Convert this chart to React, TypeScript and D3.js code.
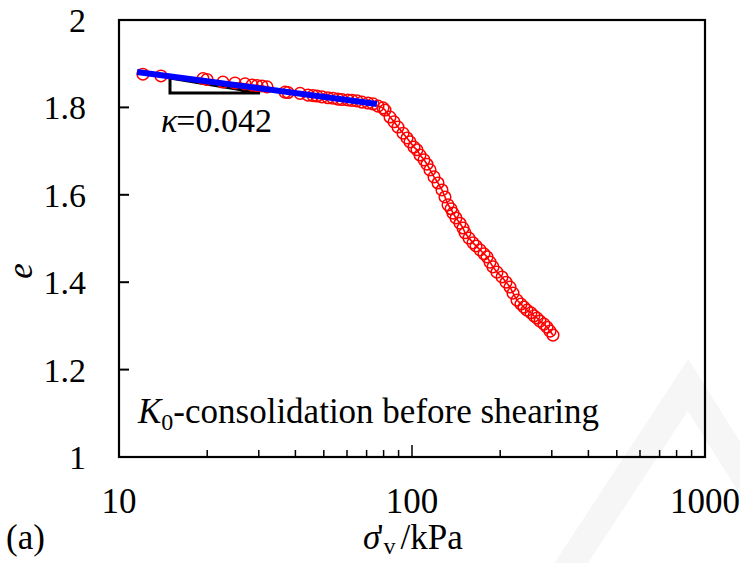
import React, { useEffect } from "react";
import * as d3 from "d3";

// measured data: vertical effective stress (kPa) and void ratio
const sigmaV: number[] = [
  12.07, 13.91, 19.35, 19.97, 22.64, 24.89, 26.92, 28.44, 29.58, 30.77, 32.0,
  36.87, 37.74, 41.48, 44.17, 45.94, 47.4, 49.29, 51.68, 53.75, 55.89, 57.69,
  60.47, 62.4, 64.91, 67.51, 70.77, 73.61, 76.56, 79.62, 80.88, 84.13, 86.82,
  89.58, 93.19, 96.14, 98.45, 101.6, 104.0, 106.5, 109.9, 112.5, 115.2, 118.9,
  122.7, 126.6, 129.6, 132.7, 135.9, 138.0, 141.3, 145.8, 149.3, 151.7, 156.5,
  161.5, 165.4, 170.7, 176.1, 180.3, 184.6, 189.0, 195.0, 202.9, 209.4, 216.0,
  221.2, 228.2, 235.5, 241.1, 246.9, 254.7, 260.8, 267.1, 273.5, 282.2, 288.9,
  295.8, 302.8,
];
const voidRatio: number[] = [
  1.876, 1.872, 1.866, 1.864, 1.858, 1.856, 1.854, 1.851, 1.85, 1.849, 1.847,
  1.835, 1.834, 1.832, 1.828, 1.827, 1.826, 1.824, 1.822, 1.821, 1.819, 1.818,
  1.817, 1.816, 1.815, 1.812, 1.81, 1.808, 1.803, 1.799, 1.794, 1.778, 1.767,
  1.755, 1.741, 1.73, 1.721, 1.709, 1.703, 1.691, 1.68, 1.67, 1.657, 1.641,
  1.627, 1.611, 1.595, 1.577, 1.568, 1.558, 1.547, 1.535, 1.524, 1.513, 1.501,
  1.49, 1.483, 1.474, 1.465, 1.458, 1.446, 1.435, 1.423, 1.412, 1.4, 1.389,
  1.375, 1.359, 1.35, 1.343, 1.336, 1.33, 1.323, 1.318, 1.311, 1.304, 1.297,
  1.288, 1.279,
];

// fitted recompression line (kappa)
const fitSigma: number[] = [11.52, 75.9];
const fitE: number[] = [1.881, 1.808];

// slope triangle
const triSigma: number[] = [14.93, 14.93, 30.29];
const triE: number[] = [1.867, 1.833, 1.833];

const xTicks: number[] = [10, 100, 1000];
const xTickLabels: string[] = ["10", "100", "1000"];
const xMinor: number[] = [20, 30, 40, 50, 60, 70, 80, 90, 200, 300, 400, 500, 600, 700, 800, 900];
const yTicks: number[] = [1, 1.2, 1.4, 1.6, 1.8, 2];
const yTickLabels: string[] = ["1", "1.2", "1.4", "1.6", "1.8", "2"];

const W = 740;
const H = 563;
const L = 119;
const R = 705;
const T = 20;
const B = 457;
const FS = { fontFamily: "'Liberation Serif', 'Times New Roman', serif" };

export default function App() {
  useEffect(() => {
    document.body.style.margin = "0";
  }, []);

  const x = d3.scaleLog().domain([10, 1000]).range([L, R]);
  const y = d3.scaleLinear().domain([1, 2]).range([B, T]);

  const pts = sigmaV.map((s, i) => [x(s), y(voidRatio[i])] as [number, number]);
  const line = d3.line<[number, number]>().x((d) => d[0]).y((d) => d[1]);
  const fitPts = fitSigma.map((s, i) => [x(s), y(fitE[i])] as [number, number]);
  const triPts = triSigma.map((s, i) => [x(s), y(triE[i])] as [number, number]);

  return (
    <svg width={W} height={H} style={{ display: "block" }}>
      <rect x={0} y={0} width={W} height={H} fill="#ffffff" />
      {/* faint watermark */}
      <polyline
        points="560,580 688,385 760,500"
        fill="none"
        stroke="#f6f6f6"
        strokeWidth={28}
      />

      {/* slope triangle */}
      <path d={line(triPts)! + "Z"} fill="#ffffff" stroke="#000" strokeWidth={3} />

      {/* data */}
      <path d={line(pts)!} fill="none" stroke="#ff0000" strokeWidth={1.6} />
      {pts.map((p, i) => (
        <circle key={i} cx={p[0]} cy={p[1]} r={5.8} fill="none" stroke="#ff0000" strokeWidth={1.5} />
      ))}
      <path d={line(fitPts)!} fill="none" stroke="#0000ff" strokeWidth={6} />

      {/* axes frame */}
      <rect x={L} y={T} width={R - L} height={B - T} fill="none" stroke="#000" strokeWidth={2.2} />

      {/* y ticks */}
      {yTicks.map((t, i) => (
        <g key={"y" + i}>
          {t > 1 && t < 2 && <line x1={L} x2={L + 10} y1={y(t)} y2={y(t)} stroke="#000" strokeWidth={2} />}
          <text x={86} y={y(t) + 12} textAnchor="end" fontSize={34} style={FS}>
            {yTickLabels[i]}
          </text>
        </g>
      ))}

      {/* x ticks */}
      {xMinor.map((t, i) => (
        <line key={"m" + i} x1={x(t)} x2={x(t)} y1={B} y2={B - 7} stroke="#000" strokeWidth={1.5} />
      ))}
      {xTicks.map((t, i) => (
        <g key={"x" + i}>
          {t > 10 && t < 1000 && <line x1={x(t)} x2={x(t)} y1={B} y2={B - 12} stroke="#000" strokeWidth={1.5} />}
          <text x={x(t)} y={513} textAnchor="middle" fontSize={35} style={FS}>
            {xTickLabels[i]}
          </text>
        </g>
      ))}

      {/* annotations */}
      <text x={161} y={132} fontSize={34} style={FS}>
        <tspan fontStyle="italic">κ</tspan>
        <tspan dx={-1}>=0.042</tspan>
      </text>
      <text x={138} y={423} fontSize={35} style={FS}>
        <tspan fontStyle="italic">K</tspan>
        <tspan fontSize={24} dy={7}>0</tspan>
        <tspan dy={-7}>-consolidation before shearing</tspan>
      </text>

      {/* axis titles */}
      <text transform="translate(32,271) rotate(-90)" textAnchor="middle" fontSize={35} fontStyle="italic" style={FS}>
        e
      </text>
      <text x={363} y={549} fontSize={35} style={FS}>
        <tspan fontStyle="italic">σ</tspan>
        <tspan dx={-3}>'</tspan>
        <tspan fontSize={24} dy={5}>v</tspan>
        <tspan dy={-5} dx={5}>/kPa</tspan>
      </text>
      <text x={6} y={549} fontSize={35} style={FS}>
        (a)
      </text>
    </svg>
  );
}
